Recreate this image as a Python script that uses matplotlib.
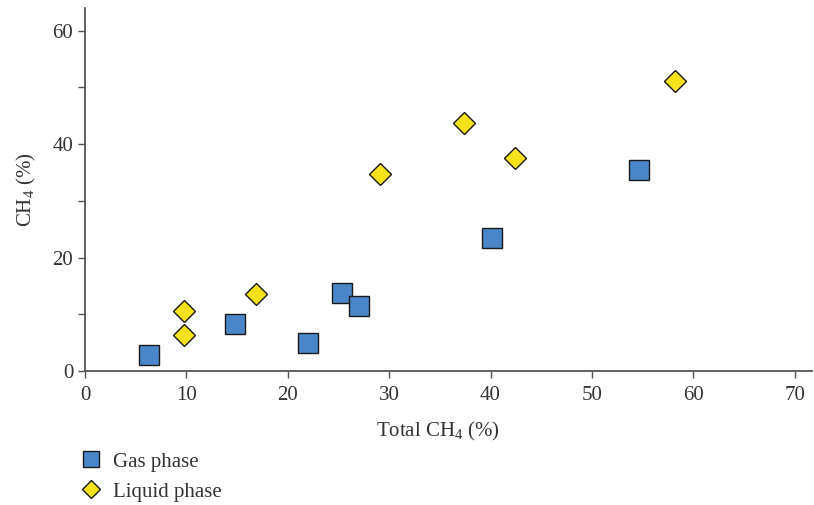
import matplotlib
matplotlib.use('Agg')
import matplotlib.pyplot as plt

plt.rcParams['font.family'] = ['Liberation Serif', 'DejaVu Serif']
plt.rcParams['mathtext.fontset'] = 'custom'
plt.rcParams['mathtext.rm'] = 'Liberation Serif'
plt.rcParams['mathtext.it'] = 'Liberation Serif:italic'

# data
gas_x = [6.3, 14.8, 22.0, 25.4, 27.0, 40.1, 54.6]
gas_y = [2.9, 8.3, 4.9, 13.8, 11.4, 23.5, 35.5]
liq_x = [9.8, 9.8, 16.9, 29.1, 37.4, 42.4, 58.2]
liq_y = [10.6, 6.3, 13.5, 34.8, 43.7, 37.6, 51.1]

text_col = '#333333'
fs = 15
fig = plt.figure(figsize=(8.14, 5.05), dpi=100)
ax = fig.add_axes([0.1044, 0.2653, 0.893, 0.719])

ax.plot(gas_x, gas_y, 's', ms=14.5, mfc='#4a86c8', mec='#1a1a1a', mew=1.0,
        ls='none', label='Gas phase', zorder=3)
ax.plot(liq_x, liq_y, 'D', ms=11.5, mfc='#f5e11c', mec='#1a1a1a', mew=1.0,
        ls='none', label='Liquid phase', zorder=3)

ax.set_xlim(0, 71.7)
ax.set_ylim(0, 64)
ax.set_xticks(range(0, 71, 10))
ax.set_yticks(range(0, 61, 20))
ax.set_yticks(range(10, 61, 20), minor=True)
for s in ['top', 'right']:
    ax.spines[s].set_visible(False)
for s in ['left', 'bottom']:
    ax.spines[s].set_color('#555555')
    ax.spines[s].set_linewidth(1.3)
ax.tick_params(which='both', direction='out', color='#555555', width=1.0,
               labelsize=fs, labelcolor=text_col)
ax.tick_params(which='both', length=5)
ax.tick_params(axis='x', pad=6)

ax.set_xlabel(r'Total CH$_4$ (%)', fontsize=fs, color=text_col)
ax.xaxis.set_label_coords(0.486, -0.135)
ax.set_ylabel(r'CH$_4$ (%)', fontsize=fs, color=text_col, labelpad=10)

fig.legend(loc='upper left', bbox_to_anchor=(0.074, 0.142), frameon=False,
           fontsize=fs, labelcolor=text_col, handletextpad=0.45,
           labelspacing=0.5, markerscale=0.8, handlelength=1.2)

plt.savefig('out.png', dpi=100)
